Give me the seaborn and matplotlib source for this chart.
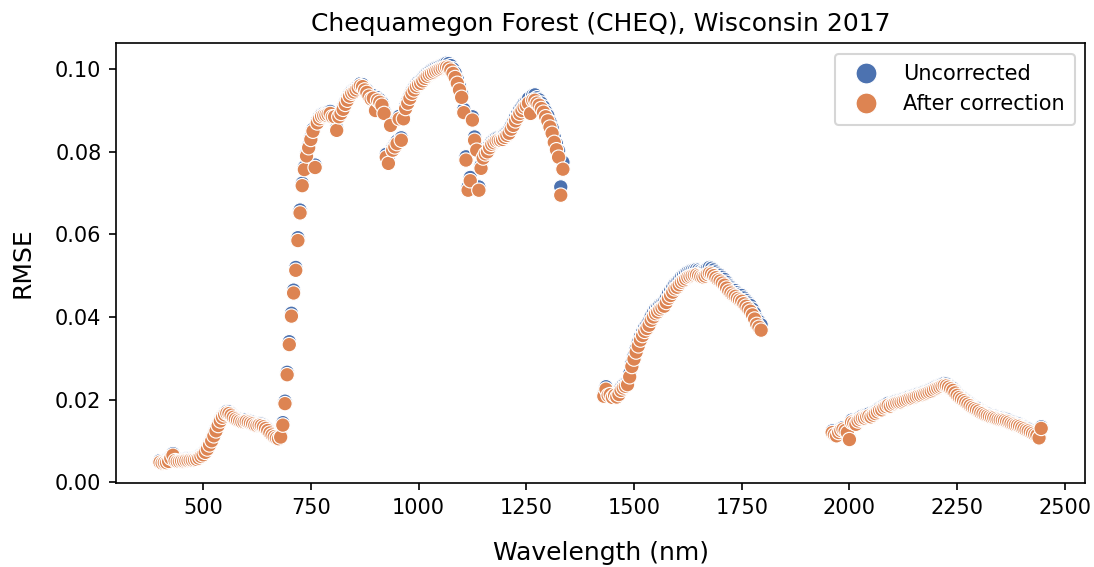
import numpy as np
import pandas as pd
import matplotlib
matplotlib.use("Agg")
import matplotlib.pyplot as plt
import seaborn as sns

# Band centre wavelengths (nm) of the three retained spectral windows, 5 nm spacing
seg1_start, seg1_stop = 400, 1335
seg2_start, seg2_stop = 1430, 1795
seg3_start, seg3_stop = 1960, 2445

# RMSE after correction, in units of 1e-4
after_seg1 = [
    48, 46, 47, 47, 50, 58, 65, 52, 50, 50,
    51, 51, 52, 52, 53, 53, 54, 55, 58, 62,
    66, 72, 80, 90, 100, 112, 124, 137, 148, 157,
    163, 167, 166, 162, 157, 153, 150, 148, 146, 146,
    147, 145, 143, 141, 138, 137, 138, 137, 134, 130,
    125, 119, 114, 110, 107, 105, 109, 138, 190, 260,
    333, 402, 458, 513, 585, 652, 718, 757, 790, 810,
    830, 850, 762, 870, 880, 886, 888, 889, 891, 893,
    885, 885, 852, 885, 893, 903, 915, 925, 935, 942,
    945, 950, 955, 960, 958, 950, 944, 935, 928, 930,
    900, 925, 920, 913, 893, 787, 772, 864, 804, 812,
    820, 880, 828, 880, 905, 918, 930, 942, 950, 958,
    963, 966, 972, 978, 983, 987, 990, 993, 996, 998,
    1000, 1002, 1004, 1005, 1003, 998, 990, 980, 966, 950,
    932, 895, 780, 707, 730, 877, 828, 804, 707, 760,
    785, 795, 800, 810, 818, 822, 826, 828, 828, 830,
    835, 840, 845, 855, 864, 875, 884, 893, 900, 908,
    912, 918, 893, 925, 925, 918, 913, 905, 896, 885,
    875, 860, 845, 823, 805, 787, 695, 758,
]
after_seg2 = [
    208, 225, 210, 212, 205, 210, 206, 212, 222, 228,
    232, 236, 255, 280, 298, 315, 330, 344, 355, 365,
    372, 380, 392, 400, 408, 412, 418, 422, 426, 435,
    445, 452, 460, 468, 472, 478, 484, 488, 492, 496,
    498, 500, 501, 502, 500, 498, 497, 499, 503, 506,
    504, 500, 495, 490, 487, 482, 477, 470, 463, 458,
    453, 450, 445, 441, 438, 432, 426, 420, 414, 405,
    395, 382, 375, 368,
]
after_seg3 = [
    120, 115, 112, 120, 125, 128, 125, 120, 103, 145,
    143, 140, 148, 152, 155, 155, 158, 160, 158, 162,
    166, 170, 174, 175, 180, 183, 186, 184, 188, 190,
    192, 193, 194, 196, 198, 200, 202, 203, 205, 207,
    209, 210, 212, 214, 216, 218, 220, 223, 226, 228,
    230, 232, 234, 233, 230, 226, 222, 216, 210, 205,
    201, 197, 193, 189, 185, 181, 178, 175, 172, 168,
    166, 163, 161, 159, 157, 156, 154, 152, 151, 150,
    149, 147, 145, 142, 140, 138, 137, 135, 132, 129,
    126, 124, 121, 118, 115, 113, 107, 130,
]

# RMSE before correction (uncorrected), in units of 1e-4
uncorr_seg1 = [
    52, 50, 51, 51, 54, 62, 69, 56, 54, 54,
    55, 55, 56, 56, 57, 57, 58, 59, 62, 66,
    70, 76, 84, 94, 104, 116, 128, 141, 152, 161,
    167, 171, 170, 166, 161, 157, 154, 152, 150, 150,
    151, 149, 147, 145, 142, 141, 142, 141, 138, 134,
    129, 123, 118, 114, 111, 109, 114, 144, 196, 266,
    340, 409, 465, 520, 592, 659, 724, 763, 795, 815,
    835, 855, 768, 875, 885, 891, 893, 894, 896, 898,
    890, 890, 858, 890, 898, 908, 920, 930, 940, 947,
    950, 955, 960, 965, 963, 955, 949, 941, 934, 936,
    906, 931, 926, 919, 899, 794, 779, 870, 810, 818,
    826, 886, 834, 886, 911, 924, 936, 948, 956, 964,
    970, 973, 979, 985, 990, 994, 998, 1001, 1004, 1006,
    1008, 1010, 1013, 1015, 1014, 1009, 1001, 991, 976, 959,
    940, 903, 788, 715, 738, 885, 836, 812, 715, 767,
    792, 802, 807, 817, 825, 829, 833, 835, 835, 837,
    843, 848, 853, 863, 872, 884, 893, 903, 910, 918,
    922, 929, 904, 937, 938, 931, 926, 918, 909, 898,
    888, 873, 858, 836, 820, 803, 715, 775,
]
uncorr_seg2 = [
    213, 231, 216, 218, 211, 216, 213, 219, 229, 235,
    239, 243, 263, 288, 306, 323, 339, 353, 364, 375,
    382, 390, 402, 411, 419, 423, 429, 433, 437, 446,
    457, 464, 472, 480, 484, 490, 497, 501, 505, 509,
    511, 513, 514, 515, 514, 512, 511, 513, 517, 520,
    518, 514, 509, 504, 501, 496, 491, 484, 477, 472,
    467, 464, 459, 455, 452, 446, 440, 434, 428, 419,
    409, 396, 389, 381,
]
uncorr_seg3 = [
    124, 119, 116, 124, 129, 132, 129, 124, 107, 150,
    148, 145, 153, 157, 160, 160, 163, 165, 163, 167,
    171, 175, 179, 180, 185, 188, 191, 189, 193, 195,
    197, 198, 199, 201, 203, 205, 207, 208, 210, 212,
    214, 215, 217, 219, 221, 223, 225, 228, 231, 233,
    235, 237, 239, 238, 235, 231, 227, 221, 215, 210,
    206, 202, 198, 194, 190, 186, 183, 180, 177, 173,
    171, 168, 166, 164, 162, 161, 159, 157, 156, 155,
    154, 152, 150, 147, 145, 143, 142, 140, 137, 134,
    131, 129, 126, 123, 120, 118, 112, 134,
]

series_names = ["Uncorrected", "After correction"]

wl = np.concatenate([
    np.arange(seg1_start, seg1_stop + 1, 5),
    np.arange(seg2_start, seg2_stop + 1, 5),
    np.arange(seg3_start, seg3_stop + 1, 5),
])
uncorr = np.array(uncorr_seg1 + uncorr_seg2 + uncorr_seg3) / 1e4
after = np.array(after_seg1 + after_seg2 + after_seg3) / 1e4

df = pd.concat([
    pd.DataFrame({"Wavelength": wl, "RMSE": uncorr, "Series": series_names[0]}),
    pd.DataFrame({"Wavelength": wl, "RMSE": after, "Series": series_names[1]}),
], ignore_index=True)

sns.set_style("ticks", rc={
    "axes.edgecolor": "black", "text.color": "black",
    "axes.labelcolor": "black", "xtick.color": "black", "ytick.color": "black",
})
sns.set_palette("deep")
plt.rcParams["font.family"] = ["DejaVu Sans"]
plt.rcParams["axes.linewidth"] = 0.8

fig, ax = plt.subplots(figsize=(1094 / 150, 567 / 150), dpi=150)
fig.subplots_adjust(left=0.106, right=0.992, top=0.924, bottom=0.148)

sns.scatterplot(data=df, x="Wavelength", y="RMSE", hue="Series",
                hue_order=series_names, palette="deep", s=48, ax=ax)

ax.set_title("Chequamegon Forest (CHEQ), Wisconsin 2017", fontsize=12)
ax.set_xlabel("Wavelength (nm)", fontsize=12, labelpad=11)
ax.set_ylabel("RMSE", fontsize=12, labelpad=10)
ax.tick_params(labelsize=10)
ax.legend(loc="upper right", fontsize=10, title=None, markerscale=1.45,
          borderpad=0.5, handletextpad=0.75, labelspacing=0.5)

fig.savefig("out.png", dpi=150)
